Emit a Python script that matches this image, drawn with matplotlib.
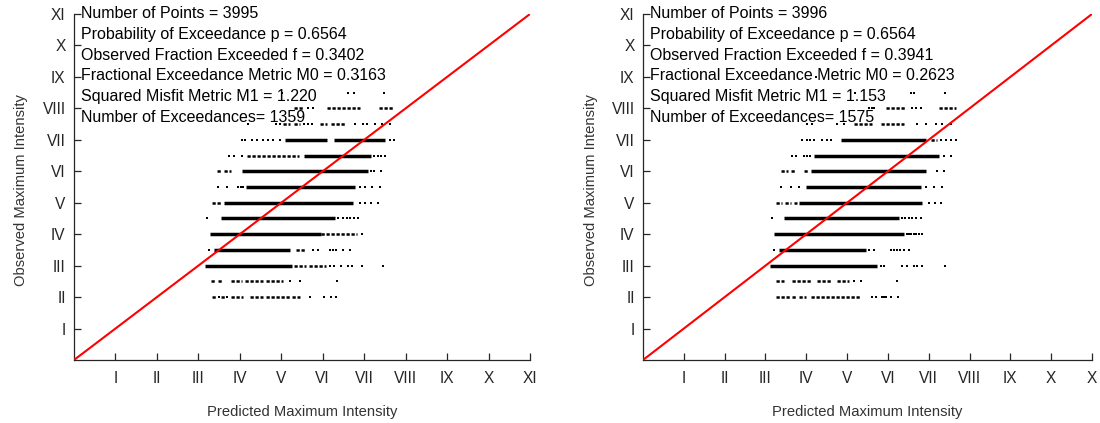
import matplotlib
matplotlib.use("Agg")
import matplotlib.pyplot as plt

plt.rcParams['font.family'] = ['Liberation Sans', 'DejaVu Sans']

# Observed intensity rows (half-unit steps)
levels = [2.0, 2.5, 3.0, 3.5, 4.0, 4.5, 5.0, 5.5, 6.0, 6.5, 7.0, 7.5, 8.0, 8.5, 9.0]

roman = ['I', 'II', 'III', 'IV', 'V', 'VI', 'VII', 'VIII', 'IX', 'X', 'XI']
x_labels_left = roman
x_labels_right = ['I', 'II', 'III', 'IV', 'V', 'VI', 'VII', 'VIII', 'IX', 'X', 'X']

# ---- left panel: predicted-intensity runs (densely packed stations) per row
left_dense = [
    [],
    [],
    [(3.17, 5.25)],
    [(3.38, 5.22)],
    [(3.28, 5.95)],
    [(3.55, 6.30)],
    [(3.61, 6.74)],
    [(4.16, 6.78)],
    [(4.06, 7.10)],
    [(5.56, 7.16)],
    [(5.09, 6.10), (6.27, 7.50)],
    [],
    [],
    [],
    [],
]
left_loose = [
    [(3.33, 3.45), (3.55, 3.64), (3.78, 4.08), (4.25, 4.55), (4.62, 5.20), (5.25, 5.45)],
    [(3.30, 3.42), (3.48, 3.60), (3.78, 4.05), (4.12, 4.55), (4.62, 5.05)],
    [(5.30, 5.60), (5.66, 6.08)],
    [(5.35, 5.57)],
    [(5.95, 6.83)],
    [],
    [(3.34, 3.58)],
    [],
    [(3.44, 3.55), (3.62, 3.78)],
    [(4.18, 5.43)],
    [],
    [(5.05, 5.20), (5.30, 5.45), (5.93, 6.10), (6.20, 6.54)],
    [(5.30, 5.56), (6.10, 6.90), (7.35, 7.70)],
    [],
    [],
]
left_dots = [
    [3.50, 3.70, 5.70, 6.02, 6.19, 6.33],
    [5.20, 5.45, 6.34],
    [6.18, 6.27, 6.44, 6.61, 6.71, 6.95, 7.45],
    [3.25, 5.77, 5.89, 6.18, 6.25, 6.32, 6.49, 6.66],
    [6.95],
    [3.21, 6.38, 6.49, 6.58, 6.66, 6.75, 6.86],
    [6.91, 7.03, 7.16, 7.33],
    [3.47, 3.68, 3.96, 4.02, 4.08, 6.91, 7.03, 7.20, 7.37],
    [7.16, 7.24, 7.41],
    [3.74, 3.87, 4.05, 7.24, 7.33, 7.41, 7.50],
    [4.05, 4.12, 4.29, 4.41, 4.56, 4.68, 4.80, 4.97, 7.62, 7.71],
    [4.20, 4.88, 4.97, 5.55, 5.64, 5.75, 6.78, 6.97, 7.07, 7.26, 7.43, 7.62],
    [5.65, 5.77],
    [5.02, 6.61, 6.76, 7.48],
    [6.85],
]

# ---- right panel
right_dense = [
    [],
    [],
    [(3.10, 5.73)],
    [(3.34, 5.46)],
    [(3.22, 6.39)],
    [(3.46, 6.27)],
    [(3.83, 6.83)],
    [(4.00, 6.80)],
    [(4.12, 6.93)],
    [(4.20, 7.24)],
    [(4.85, 6.93)],
    [],
    [],
    [],
    [],
]
right_loose = [
    [(3.27, 3.59), (3.66, 3.76), (3.83, 4.00), (4.12, 5.34)],
    [(3.27, 3.46), (3.66, 4.15), (4.27, 4.63), (4.76, 5.05)],
    [],
    [],
    [],
    [],
    [(3.27, 3.40), (3.48, 3.62), (3.70, 3.78)],
    [],
    [(3.39, 3.55), (3.62, 3.76), (3.95, 4.07)],
    [],
    [(7.05, 7.20)],
    [(5.17, 5.61), (5.83, 6.39)],
    [(5.95, 6.44), (7.24, 7.66)],
    [],
    [],
]
right_dots = [
    [5.61, 5.71, 5.85, 5.90, 5.95, 6.07, 6.24],
    [5.17, 5.34, 6.22],
    [5.83, 5.90, 6.34, 6.46, 6.63, 6.71, 6.83, 7.41],
    [3.22, 5.54, 5.66, 6.07, 6.15, 6.22, 6.30, 6.40, 6.51],
    [6.46, 6.52, 6.56, 6.63, 6.70, 6.76, 6.83],
    [3.15, 6.34, 6.42, 6.52, 6.60, 6.70, 6.80],
    [7.00, 7.15, 7.29],
    [3.39, 3.63, 3.83, 6.93, 7.12, 7.32],
    [7.20, 7.37],
    [3.66, 3.76, 3.95, 4.02, 4.10, 7.37, 7.54],
    [3.90, 4.02, 4.10, 4.20, 4.39, 4.50, 4.61, 7.30, 7.42, 7.55, 7.68],
    [4.02, 4.15, 4.76, 4.93, 6.71, 6.93, 7.17, 7.32, 7.54],
    [5.54, 5.60, 5.66, 6.59, 6.68, 6.80],
    [5.20, 6.56, 6.63, 7.41],
    [4.24],
]

left_stats = ["Number of Points = 3995",
              "Probability of Exceedance p = 0.6564",
              "Observed Fraction Exceeded f = 0.3402",
              "Fractional Exceedance Metric M0 = 0.3163",
              "Squared Misfit Metric M1 = 1.220",
              "Number of Exceedances= 1359"]
right_stats = ["Number of Points = 3996",
               "Probability of Exceedance p = 0.6564",
               "Observed Fraction Exceeded f = 0.3941",
               "Fractional Exceedance Metric M0 = 0.2623",
               "Squared Misfit Metric M1 = 1.153",
               "Number of Exceedances= 1575"]

AXCOL = '#262626'
LIM = 11


def draw_panel(ax, dense, loose, dots, stats, xlabels):
    ax.set_xlim(0, LIM)
    ax.set_ylim(0, LIM)
    for side in ('top', 'right'):
        ax.spines[side].set_visible(False)
    for side in ('left', 'bottom'):
        ax.spines[side].set_color(AXCOL)
        ax.spines[side].set_linewidth(0.9)
    ticks = list(range(1, LIM + 1))
    ax.set_xticks(ticks)
    ax.set_yticks(ticks)
    ax.set_xticklabels(xlabels)
    ax.set_yticklabels(roman)
    ax.tick_params(direction='in', length=5, width=0.9, color=AXCOL,
                   labelcolor=AXCOL, labelsize=11.2)
    ax.tick_params(axis='x', pad=8)
    ax.tick_params(axis='y', pad=6)

    for i, t in enumerate(stats):
        ax.text(0.17, 11.0 - i * 0.655, t, fontsize=11.5, color='black',
                ha='left', va='center', zorder=2)

    for y, runs in zip(levels, dense):
        for x0, x1 in runs:
            ax.hlines(y, x0, x1, colors='black', linewidth=2.5, zorder=3)
    for y, runs in zip(levels, loose):
        for x0, x1 in runs:
            ax.hlines(y, x0, x1, colors='black', linewidth=1.8,
                      linestyles=(0, (1.3, 0.7)), zorder=3)
    for y, xs in zip(levels, dots):
        ax.scatter(xs, [y] * len(xs), s=3.5, c='black', marker='s',
                   linewidths=0, zorder=3)

    ax.plot([0, LIM], [0, LIM], color='red', linewidth=1.5, zorder=4,
            solid_capstyle='butt')

    ax.set_xlabel('Predicted Maximum Intensity', fontsize=10.6, color='#333333')
    ax.set_ylabel('Observed Maximum Intensity', fontsize=10.6, color='#333333')
    ax.xaxis.set_label_coords(0.5, -0.13)
    ax.yaxis.set_label_coords(-0.1, 0.49)


fig = plt.figure(figsize=(11, 4.23), dpi=100)
ax1 = fig.add_axes([74 / 1100, 63 / 423, 456 / 1100, 346 / 423])
ax2 = fig.add_axes([643 / 1100, 63 / 423, 449 / 1100, 346 / 423])

draw_panel(ax1, left_dense, left_loose, left_dots, left_stats, x_labels_left)
draw_panel(ax2, right_dense, right_loose, right_dots, right_stats, x_labels_right)

fig.savefig('out.png', dpi=100, facecolor='white')
